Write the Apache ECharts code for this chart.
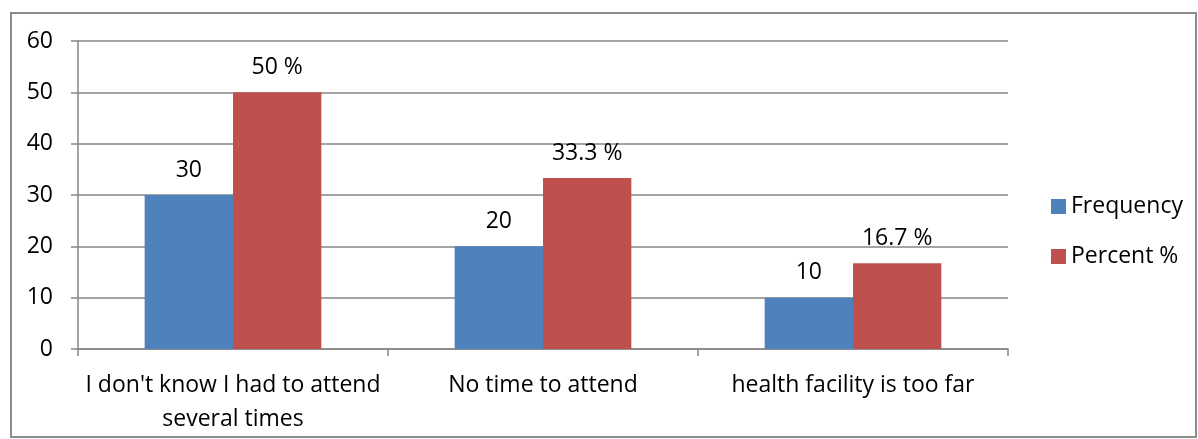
<!DOCTYPE html>
<html>
<head>
<meta charset="utf-8">
<script src="https://cdn.jsdelivr.net/npm/echarts@6/dist/echarts.min.js"></script>
<style>
  html, body { margin: 0; padding: 0; background: #fff; }
  #frame { position: absolute; left: 10px; top: 12px; width: 1187px; height: 426px; border: 2px solid #8c8c8c; box-sizing: border-box; }
  #chart { position: absolute; left: 0; top: 0; width: 1198px; height: 439px; }
</style>
</head>
<body>
<div id="frame"></div>
<div id="chart"></div>
<script>
const categories = ['I don\'t know I had to attend\nseveral times', 'No time to attend', 'health facility is too far'];
const frequency = [30, 20, 10];
const percent = [50, 33.3, 16.7];
const yTicks = [0, 10, 20, 30, 40, 50, 60];

const FONT = '"Open Sans", sans-serif';
const SIZE = 23;
const chart = echarts.init(document.getElementById('chart'), null, { renderer: 'canvas' });

chart.setOption({
  animation: false,
  textStyle: { fontFamily: FONT, color: '#000' },
  grid: { left: 78, right: 190, top: 41, bottom: 90, containLabel: false },
  legend: {
    orient: 'vertical',
    left: 1051,
    top: 194,
    padding: 0,
    itemWidth: 15,
    itemHeight: 15,
    itemGap: 25,
    icon: 'rect',
    textStyle: { fontFamily: FONT, fontSize: SIZE, lineHeight: 25, color: '#000', padding: [0, 0, 0, 0] },
    data: ['Frequency', 'Percent %']
  },
  xAxis: {
    type: 'category',
    data: categories,
    axisLine: { lineStyle: { color: '#868686', width: 1.5 } },
    axisTick: { show: true, length: 7, lineStyle: { color: '#868686', width: 1.5 } },
    axisLabel: { fontFamily: FONT, fontSize: SIZE, color: '#000', margin: 19, lineHeight: 34, interval: 0 }
  },
  yAxis: {
    type: 'value',
    min: yTicks[0],
    max: yTicks[yTicks.length - 1],
    interval: 10,
    axisLine: { show: true, lineStyle: { color: '#868686', width: 1.5 } },
    axisTick: { show: true, length: 7, inside: false, lineStyle: { color: '#868686', width: 1.5 } },
    splitLine: { lineStyle: { color: '#868686', width: 1.5 } },
    axisLabel: { fontFamily: FONT, fontSize: SIZE, color: '#000', margin: 25, align: 'right' }
  },
  series: [
    {
      name: 'Frequency',
      type: 'bar',
      data: frequency,
      barGap: '0%',
      barCategoryGap: '43%',
      itemStyle: { color: '#4F81BD' },
      label: { show: true, position: 'top', distance: 12, lineHeight: 26, fontFamily: FONT, fontSize: SIZE, color: '#000' }
    },
    {
      name: 'Percent %',
      type: 'bar',
      data: percent,
      barGap: '0%',
      barCategoryGap: '43%',
      itemStyle: { color: '#C0504D' },
      label: { show: true, position: 'top', distance: 12, lineHeight: 26, fontFamily: FONT, fontSize: SIZE, color: '#000',
               formatter: p => p.value + ' %' }
    }
  ]
});
</script>
</body>
</html>
